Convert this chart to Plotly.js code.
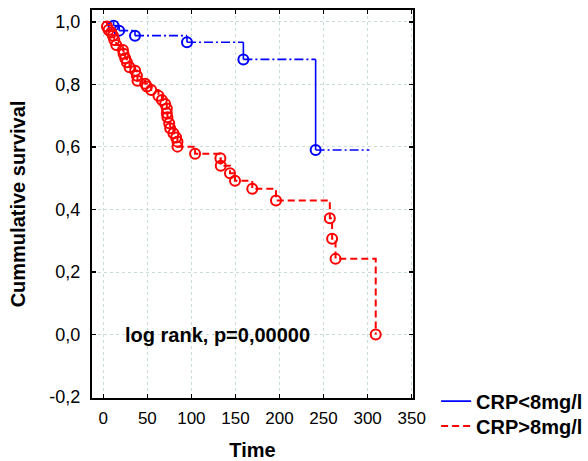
<!DOCTYPE html>
<html>
<head>
<meta charset="utf-8">
<script src="https://cdn.plot.ly/plotly-3.0.1.min.js"></script>
<style>html,body{margin:0;padding:0;background:#fff;}#chart{width:588px;height:461px;}</style>
</head>
<body>
<div id="chart"></div>
<script>
// Group names
const seriesNames = ["CRP<8mg/l", "CRP>8mg/l"];
// CRP<8mg/l : event times and cumulative survival
const lowTimes = [11.7, 18, 36, 95, 159, 241];
const lowSurv  = [0.988, 0.972, 0.956, 0.935, 0.88, 0.59];
const lowEnd   = 302;
// CRP>8mg/l : event times and cumulative survival
const highTimes = [4.2, 6.0, 9.1, 11, 12.5, 14.7, 22.3, 23, 24.9, 26.8, 29.8, 36.2, 38.2, 38.8, 47.6, 49.5, 54.4, 62.6, 66.5, 70.2, 72.1, 72.1, 72.8, 74.8, 75.9, 79.6, 82.7, 84.2, 84.2, 104.2, 132.9, 133.3, 143.8, 149.5, 169.1, 196, 257.1, 259.7, 263.6, 309.2];
const highSurv  = [0.985, 0.974, 0.966, 0.956, 0.942, 0.926, 0.910, 0.898, 0.884, 0.871, 0.855, 0.844, 0.828, 0.812, 0.802, 0.793, 0.782, 0.764, 0.750, 0.737, 0.723, 0.708, 0.695, 0.676, 0.660, 0.644, 0.630, 0.617, 0.601, 0.578, 0.564, 0.540, 0.516, 0.492, 0.466, 0.429, 0.372, 0.306, 0.242, 0.0];
// Axis ticks
const xTicks = [0, 50, 100, 150, 200, 250, 300, 350];
const yTicks = [-0.2, 0, 0.2, 0.4, 0.6, 0.8, 1.0];
const yTickText = ["-0,2", "0,0", "0,2", "0,4", "0,6", "0,8", "1,0"];
const annotationText = "log rank, p=0,00000";

const blue = "#0000ff", red = "#ff0000";
const fontFam = "Liberation Sans, Arial, sans-serif";

// Build blue step curve as separate horizontal and vertical pieces
const lowT = [0].concat(lowTimes), lowS = [1].concat(lowSurv);
const hx = [], hy = [], vx = [], vy = [];
for (let i = 0; i < lowT.length; i++) {
  const tNext = i + 1 < lowT.length ? lowT[i + 1] : lowEnd;
  hx.push(lowT[i], tNext, null); hy.push(lowS[i], lowS[i], null);
  if (i + 1 < lowT.length) { vx.push(lowT[i + 1], lowT[i + 1], null); vy.push(lowS[i], lowS[i + 1], null); }
}

const legendFont = {family: fontFam, size: 20, weight: "bold", color: "#000"};
const traces = [
  {x: hx, y: hy, mode: "lines", line: {color: blue, width: 1.6, dash: "9px,3px,2px,3px"}, showlegend: false, hoverinfo: "skip"},
  {x: vx, y: vy, mode: "lines", line: {color: blue, width: 1.6}, showlegend: false, hoverinfo: "skip"},
  {x: lowTimes, y: lowSurv, mode: "markers",
   marker: {symbol: "circle-open", size: 10, color: blue, line: {width: 2, color: blue}}, showlegend: false},
  {x: [0].concat(highTimes), y: [1].concat(highSurv),
   mode: "lines", line: {shape: "hv", color: red, width: 2, dash: "7px,4px"}, showlegend: false, hoverinfo: "skip"},
  {x: highTimes, y: highSurv, mode: "markers",
   marker: {symbol: "circle-open", size: 10, color: red, line: {width: 2, color: red}}, showlegend: false},
  {x: [null], y: [null], mode: "lines", name: seriesNames[0], line: {color: blue, width: 1.6}, legend: "legend"},
  {x: [null], y: [null], mode: "lines", name: seriesNames[1], line: {color: red, width: 2, dash: "7px,4px"}, legend: "legend2"}
];

const layout = {
  width: 588, height: 461,
  margin: {l: 92, r: 175, t: 10, b: 63, autoexpand: false},
  paper_bgcolor: "#fff", plot_bgcolor: "#fff",
  font: {family: fontFam, color: "#000", size: 17},
  showlegend: true,
  legend: {x: 1.072, xanchor: "left", y: -0.008, yanchor: "middle", xref: "paper", yref: "paper",
           font: legendFont, bgcolor: "rgba(0,0,0,0)", itemwidth: 30},
  legend2: {x: 1.072, xanchor: "left", y: -0.072, yanchor: "middle", xref: "paper", yref: "paper",
           font: legendFont, bgcolor: "rgba(0,0,0,0)", itemwidth: 30},
  xaxis: {range: [-12.8, 351.5], tickvals: xTicks, ticktext: xTicks.map(String),
          ticks: "inside", ticklen: 4, tickwidth: 1.5, tickcolor: "#000",
          showline: true, linecolor: "#000", linewidth: 2, mirror: "allticks",
          showgrid: true, gridcolor: "#c9dcdc", griddash: "dot", gridwidth: 1,
          zeroline: false, tickfont: {size: 17, family: fontFam}, ticklabelstandoff: 4,
          title: {text: "Time", font: {size: 20, weight: "bold", family: fontFam}, standoff: 22}},
  yaxis: {range: [-0.203, 1.038], tickvals: yTicks, ticktext: yTickText,
          ticks: "inside", ticklen: 4, tickwidth: 1.5, tickcolor: "#000",
          showline: true, linecolor: "#000", linewidth: 2, mirror: "allticks",
          showgrid: true, gridcolor: "#c9dcdc", griddash: "dot", gridwidth: 1,
          zeroline: false, tickfont: {size: 18, family: fontFam}, ticklabelstandoff: 6,
          title: {text: "Cummulative survival", font: {size: 20, weight: "bold", family: fontFam}, standoff: 18}},
  annotations: [{x: 130, y: 0.0, xref: "x", yref: "y", text: annotationText, showarrow: false,
                 font: {size: 20, weight: "bold", family: fontFam, color: "#000"}}]
};

Plotly.newPlot("chart", traces, layout, {staticPlot: true, displayModeBar: false});
</script>
</body>
</html>
